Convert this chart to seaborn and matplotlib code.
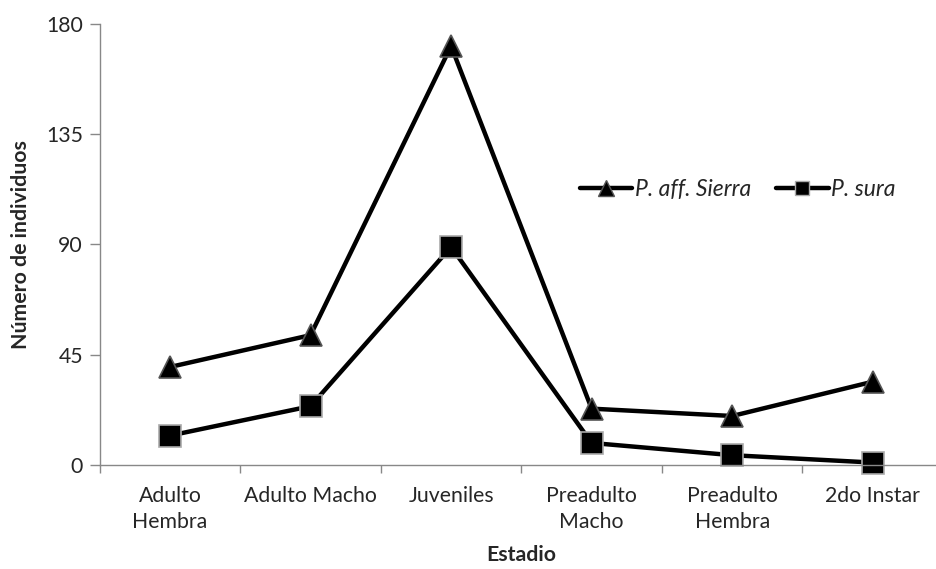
import matplotlib
matplotlib.use("Agg")
import matplotlib.pyplot as plt
import seaborn as sns
import pandas as pd
from matplotlib.lines import Line2D

categories = ["Adulto\nHembra", "Adulto Macho", "Juveniles", "Preadulto\nMacho", "Preadulto\nHembra", "2do Instar"]
sierra = [40, 53, 171, 23, 20, 34]
sura = [12, 24, 89, 9, 4, 1]
series_names = ["P. aff. Sierra", "P. sura"]
yticks = [0, 45, 90, 135, 180]

sns.set_theme(style="white")
plt.rcParams['font.family'] = ['Lato', 'DejaVu Sans']

df = pd.DataFrame({
    "Estadio": categories * 2,
    "pos": list(range(len(categories))) * 2,
    "Número de individuos": sierra + sura,
    "Especie": [series_names[0]] * len(categories) + [series_names[1]] * len(categories),
})

fig = plt.figure(figsize=(9.36, 5.69), dpi=100)
ax = fig.add_axes([99.7 / 936, (569 - 465) / 569, (943 - 99.7) / 936, (465 - 24) / 569])

sns.lineplot(data=df, x="pos", y="Número de individuos", hue="Especie", style="Especie",
             palette=["black", "black"], markers={series_names[0]: "^", series_names[1]: "s"},
             dashes=False, linewidth=3.2, markersize=16.5, ax=ax, legend=False, sort=False)

edge_cols = {series_names[0]: "#555555", series_names[1]: "#aaaaaa"}
for line, name in zip(ax.get_lines(), series_names):
    line.set_markeredgecolor(edge_cols[name])
    line.set_markeredgewidth(1.2)
    line.set_clip_on(False)

fs = 15.3
ax.set_xlim(-0.5, len(categories) - 0.5)
ax.set_ylim(0, 180)
ax.set_yticks(yticks)
ax.set_yticklabels([str(v) for v in yticks], fontsize=fs)
ax.set_xticks(range(len(categories)))
ax.set_xticklabels(categories, fontsize=fs, linespacing=1.4)
ax.set_xticks([i - 0.5 for i in range(len(categories) + 1)], minor=True)
ax.tick_params(axis="x", which="major", length=0, pad=15)
ax.tick_params(axis="x", which="minor", length=6, color="#888888", width=1, direction="out", bottom=True)
ax.tick_params(axis="y", which="major", length=7, color="#888888", width=1, direction="out", left=True, pad=5)

for s in ["top", "right"]:
    ax.spines[s].set_visible(False)
for s in ["left", "bottom"]:
    ax.spines[s].set_color("#888888")
    ax.spines[s].set_linewidth(1)

ax.set_xlabel("Estadio", fontsize=fs, fontweight="bold", labelpad=9)
ax.set_ylabel("Número de individuos", fontsize=fs, fontweight="bold", labelpad=11)
ax.grid(False)

handles = [
    Line2D([], [], color="black", lw=3.2, marker="^", markersize=12, markeredgecolor="#555555"),
    Line2D([], [], color="black", lw=3.2, marker="s", markersize=10, markeredgecolor="#aaaaaa"),
]
leg = ax.legend(handles, series_names, ncol=2, loc="center left", bbox_to_anchor=(0.569, 0.625),
                frameon=False, handlelength=2.3, handletextpad=0.1, columnspacing=1.1,
                borderaxespad=0, borderpad=0,
                prop={"style": "italic", "size": 16.5})

fig.savefig("out.png", dpi=100)
